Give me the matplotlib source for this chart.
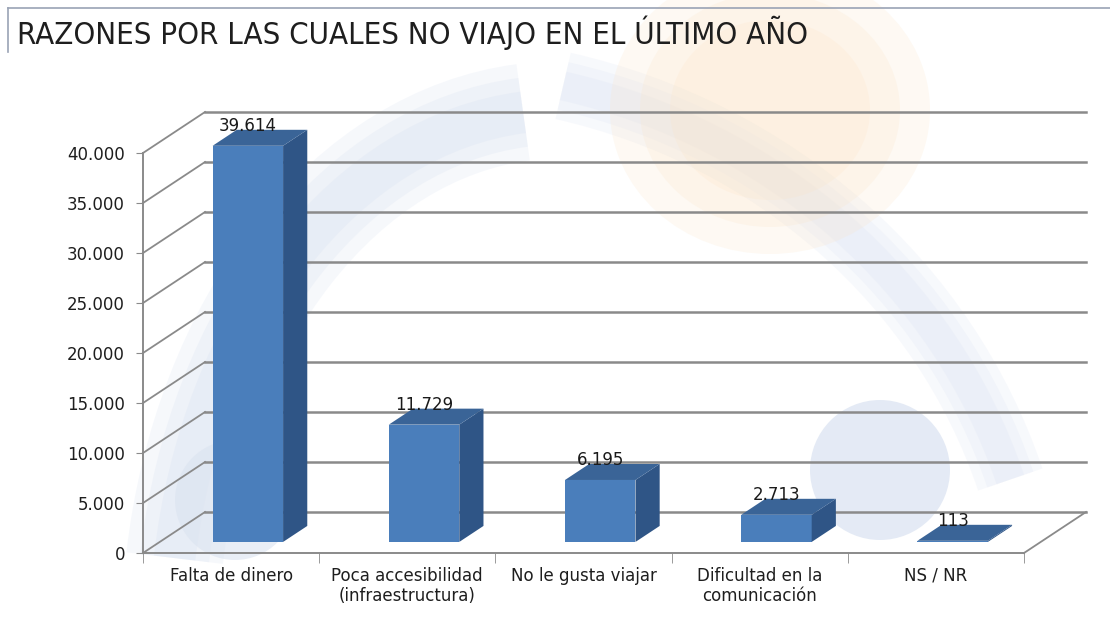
import matplotlib.pyplot as plt
import matplotlib.patches as mpatches
import numpy as np

# data
categories = ["Falta de dinero", "Poca accesibilidad\n(infraestructura)", "No le gusta viajar",
              "Dificultad en la\ncomunicación", "NS / NR"]
values = [39614, 11729, 6195, 2713, 113]
value_labels = ["39.614", "11.729", "6.195", "2.713", "113"]
yticks = [0, 5000, 10000, 15000, 20000, 25000, 30000, 35000, 40000]
ytick_labels = ["0", "5.000", "10.000", "15.000", "20.000", "25.000", "30.000", "35.000", "40.000"]

# fake 3d geometry (depth of the floor in data units)
dxf, dyf = 0.352, 4100
f0, f1 = 0.27, 0.66
bw = 0.4
grid_c = '#8a8a8a'
front_c, side_c, top_c = '#4a7ebb', '#2f5586', '#3a6497'

fig = plt.figure(figsize=(11.1, 6.17), dpi=100)

# faint watermark in the background (soft bands: several wide, low alpha strokes)
bg = fig.add_axes([0, 0, 1, 1], zorder=-5)
bg.set_xlim(0, 1110); bg.set_ylim(617, 0); bg.axis('off')
for lw in [70, 50, 30]:
    bg.add_patch(mpatches.Arc((560, 640), 780, 1060, theta1=192, theta2=266,
                              lw=lw, ec='#c8d5ec', alpha=0.16))
    bg.add_patch(mpatches.Arc((420, 660), 1240, 1180, theta1=284, theta2=343,
                              lw=lw * 0.7, ec='#cfd9ef', alpha=0.15))
for r in [160, 130, 100]:
    bg.add_patch(mpatches.Ellipse((770, 110), r * 2, r * 1.8, fc='#fde3c3', ec='none', alpha=0.2))
bg.add_patch(mpatches.Circle((880, 470), 70, fc='#d9e2f1', ec='none', alpha=0.7))
bg.add_patch(mpatches.Circle((235, 500), 60, fc='#dbe3f0', ec='none', alpha=0.6))
bg.plot([8, 1110], [8, 8], color='#9aa3b5', lw=1.2)
bg.plot([8, 8], [8, 52], color='#9aa3b5', lw=1.2)
bg.text(17, 33, "RAZONES POR LAS CUALES NO VIAJO EN EL ÚLTIMO AÑO", fontsize=22.3,
        fontstretch='condensed', color='#1e1e1e', va='center', ha='left', family='DejaVu Sans')

ax = fig.add_axes([143/1110, 64/617, 881/1110, 400/617])
ax.set_xlim(-0.5, 4.5)
ax.set_ylim(0, 40000)
ax.patch.set_alpha(0)

# back wall gridlines and side wall diagonals
for t in yticks:
    ax.plot([-0.5 + dxf, 4.5 + dxf], [t + dyf, t + dyf], color=grid_c, lw=1.8, clip_on=False)
    ax.plot([-0.5, -0.5 + dxf], [t, t + dyf], color=grid_c, lw=1.3, clip_on=False)
# floor right edge
ax.plot([4.5, 4.5 + dxf], [0, dyf], color=grid_c, lw=1.3, clip_on=False)

# bars
x = np.arange(len(values))
b = f0 * dyf
ddx, ddy = (f1 - f0) * dxf, (f1 - f0) * dyf
xc = x + f0 * dxf
ax.bar(xc, values, width=bw, bottom=b, color=front_c, zorder=3, clip_on=False)
for xi, v, lab in zip(xc, values, value_labels):
    xl, xr = xi - bw / 2, xi + bw / 2
    side = [(xr, b), (xr + ddx, b + ddy), (xr + ddx, b + ddy + v), (xr, b + v)]
    top = [(xl, b + v), (xr, b + v), (xr + ddx, b + v + ddy), (xl + ddx, b + v + ddy)]
    ax.add_patch(mpatches.Polygon(side, closed=True, fc=side_c, ec='none', zorder=3, clip_on=False))
    ax.add_patch(mpatches.Polygon(top, closed=True, fc=top_c, ec='none', zorder=3, clip_on=False))
    ax.text(xi, b + v + ddy - 150, lab, ha='center', va='baseline', fontsize=12,
            color='#1a1a1a', zorder=4)

# axes styling
for s in ['top', 'right']:
    ax.spines[s].set_visible(False)
for s in ['left', 'bottom']:
    ax.spines[s].set_color(grid_c)
    ax.spines[s].set_linewidth(1.4)
ax.set_yticks(yticks)
ax.set_yticklabels(ytick_labels, fontsize=12, color='#1e1e1e')
ax.tick_params(axis='y', length=5, color=grid_c, pad=8)
ax.set_xticks(x)
ax.set_xticklabels(categories, fontsize=12, color='#1e1e1e', linespacing=1.15)
ax.set_xticks(np.arange(-0.5, 5, 1), minor=True)
ax.tick_params(axis='x', which='major', length=0, pad=10)
ax.tick_params(axis='x', which='minor', length=7, color=grid_c)

fig.savefig('out.png', dpi=100)
